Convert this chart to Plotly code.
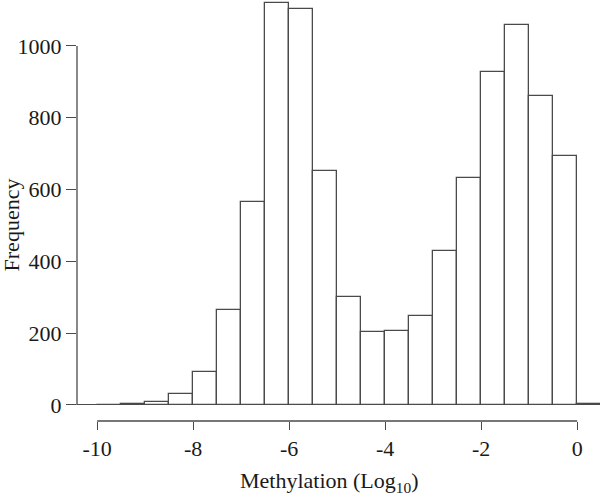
import plotly.graph_objects as go

# histogram of methylation (log10), bins of 0.5
bin_left = [-10.0, -9.5, -9.0, -8.5, -8.0, -7.5, -7.0, -6.5, -6.0, -5.5, -5.0,
            -4.5, -4.0, -3.5, -3.0, -2.5, -2.0, -1.5, -1.0, -0.5, 0.0]
counts = [0, 2, 7, 31, 91, 265, 566, 1120, 1103, 652, 300,
          203, 207, 247, 430, 633, 927, 1058, 861, 693, 2]
bin_width = 0.5

x_ticks = [-10, -8, -6, -4, -2, 0]
y_ticks = [0, 200, 400, 600, 800, 1000]

FONT = "Liberation Serif"
LINE = "#4a4a4a"

centers = [b + bin_width / 2 for b in bin_left]

fig = go.Figure()
fig.add_trace(go.Bar(
    x=centers,
    y=counts,
    width=bin_width,
    marker=dict(color="white", line=dict(color=LINE, width=1.3)),
    showlegend=False,
))

fig.update_layout(
    width=600,
    height=497,
    margin=dict(l=77, r=0, t=0, b=76),
    paper_bgcolor="white",
    plot_bgcolor="white",
    bargap=0,
    font=dict(family=FONT, size=22, color="#1a1a1a"),
    xaxis=dict(
        range=[-10.42, 0.476],
        tickvals=x_ticks,
        ticktext=[str(v) for v in x_ticks],
        ticks="outside",
        ticklen=8,
        tickwidth=1.3,
        tickcolor=LINE,
        showgrid=False,
        zeroline=False,
        showline=False,
    ),
    yaxis=dict(
        range=[-44.8, 1128],
        tickvals=y_ticks,
        ticks="outside",
        ticklen=10,
        tickwidth=1.3,
        tickcolor=LINE,
        showgrid=False,
        zeroline=True,
        zerolinecolor=LINE,
        zerolinewidth=1.3,
        showline=False,
    ),
)

# R-style axis lines spanning only first to last tick
fig.add_shape(type="line", xref="x", yref="paper",
              x0=min(x_ticks), x1=max(x_ticks), y0=0, y1=0,
              line=dict(color=LINE, width=1.3))
fig.add_shape(type="line", xref="paper", yref="y",
              x0=0, x1=0, y0=min(y_ticks), y1=max(y_ticks),
              line=dict(color=LINE, width=1.3))

fig.add_annotation(text="Frequency", xref="paper", yref="paper",
                   x=-0.125, y=0.466, textangle=-90, showarrow=False,
                   xanchor="center", yanchor="middle")
fig.add_annotation(text="Methylation (Log<sub>10</sub>)", xref="paper", yref="paper",
                   x=0.483, y=-0.145, showarrow=False,
                   xanchor="center", yanchor="middle")

fig.write_html("out.html", config={"displayModeBar": False},
               post_script="document.body.style.margin='0';")
